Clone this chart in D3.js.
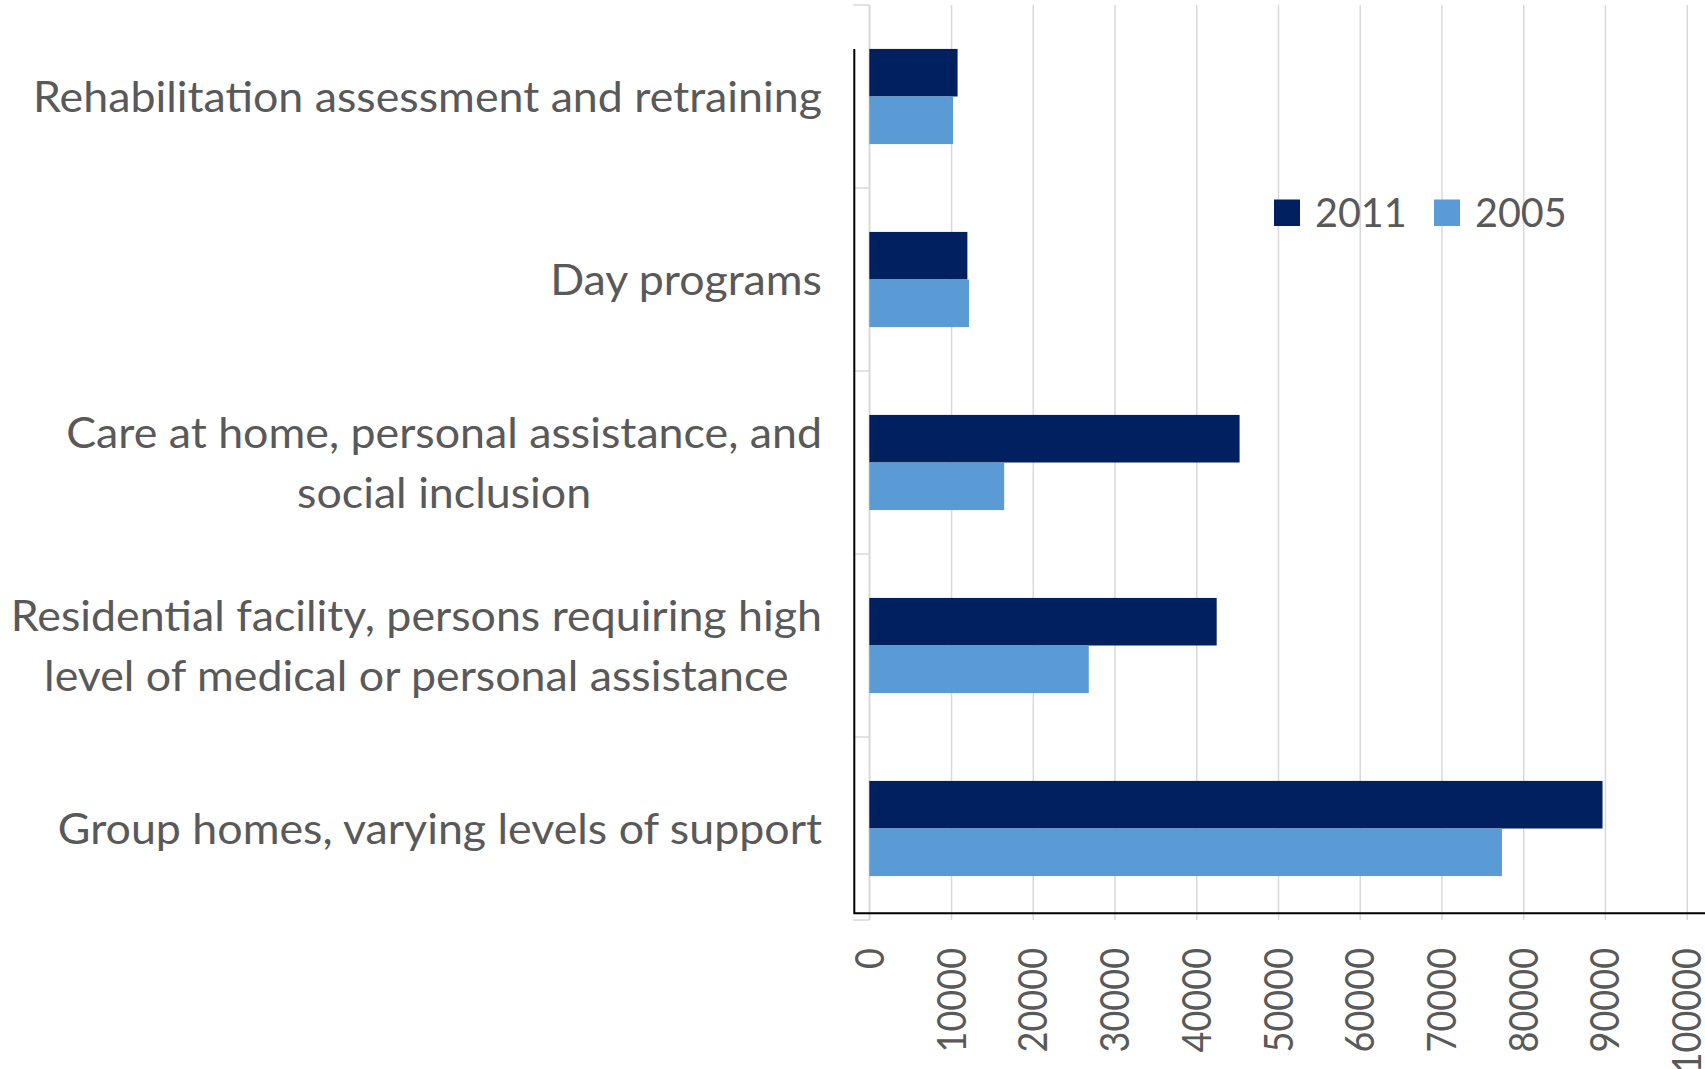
<!DOCTYPE html>
<html>
<head>
<meta charset="utf-8">
<script src="https://cdn.jsdelivr.net/npm/d3@7"></script>
<style>
  html, body { margin: 0; padding: 0; background: #ffffff; }
  svg { display: block; }
  text { font-family: Lato, "Open Sans", sans-serif; fill: #595959; }
</style>
</head>
<body>
<svg id="chart" width="1705" height="1069"></svg>
<script>
// ---- data ----
const categories = [
  "Rehabilitation assessment and retraining",
  "Day programs",
  "Care at home, personal assistance, and social inclusion",
  "Residential facility, persons requiring high level of medical or personal assistance",
  "Group homes, varying levels of support"
];
const categoryLines = [
  ["Rehabilitation assessment and retraining"],
  ["Day programs"],
  ["Care at home, personal assistance, and", "social inclusion"],
  ["Residential facility, persons requiring high", "level of medical or personal assistance"],
  ["Group homes, varying levels of support"]
];
const seriesNames = ["2011", "2005"];
const values2011 = [10800, 12000, 45300, 42500, 89700];
const values2005 = [10250, 12200, 16500, 26850, 77400];
const xTicks = [0, 10000, 20000, 30000, 40000, 50000, 60000, 70000, 80000, 90000, 100000];
const colors = { "2011": "#002060", "2005": "#5B9BD5" };

const seriesValues = { "2011": values2011, "2005": values2005 };

// ---- layout ----
const svg = d3.select("#chart");
svg.append("rect").attr("width", 1705).attr("height", 1069).attr("fill", "#fff");

const x = d3.scaleLinear().domain([0, 100000]).range([869.3, 1686.7]);
const y = d3.scaleBand().domain(categories).range([5, 920]).paddingInner(0.48).paddingOuter(0.24);
const ySub = d3.scaleBand().domain(seriesNames).range([0, y.bandwidth()]);

const gridColor = "#D9D9D9";

// helper: compress text to a given factor
function fit(sel, k) {
  sel.each(function () {
    const n = this.getComputedTextLength();
    d3.select(this).attr("textLength", n * k).attr("lengthAdjust", "spacingAndGlyphs");
    this.__len = n * k;
  });
}
function measure(str, size) {
  const t = svg.append("text").style("font-size", size + "px").text(str);
  const n = t.node().getComputedTextLength();
  t.remove();
  return n;
}

// gridlines via axis
const gx = svg.append("g").attr("transform", "translate(0,920)")
  .call(d3.axisBottom(x).tickValues(xTicks).tickSize(-915).tickFormat(""));
gx.select(".domain").remove();
gx.selectAll(".tick line").attr("stroke", gridColor).attr("stroke-width", 1.5);

// category axis (grey) with ticks at band boundaries
const step = y.step();
const y0 = y.range()[0];
const bounds = d3.range(categories.length + 1).map(i => y0 + i * step);
svg.append("line").attr("x1", x(0)).attr("x2", x(0)).attr("y1", y0).attr("y2", 920)
  .attr("stroke", gridColor).attr("stroke-width", 1.5);
svg.selectAll(".ctick").data(bounds).enter().append("line")
  .attr("x1", 853).attr("x2", x(0)).attr("y1", d => d).attr("y2", d => d)
  .attr("stroke", gridColor).attr("stroke-width", 1.5);

// bars
const groups = svg.selectAll(".grp").data(categories).enter().append("g")
  .attr("transform", d => `translate(0,${y(d)})`);
seriesNames.forEach(s => {
  groups.append("rect")
    .attr("x", x(0))
    .attr("y", ySub(s))
    .attr("height", ySub.bandwidth())
    .attr("width", (d, i) => x(seriesValues[s][i]) - x(0))
    .attr("fill", colors[s]);
});

// black frame lines (left + bottom)
svg.append("path").attr("d", `M854.3,49 L854.3,913.3 L1705,913.3`)
  .attr("fill", "none").attr("stroke", "#000").attr("stroke-width", 2);

// category labels
const labelSize = 43;
const kLabel = 789 / measure(categoryLines[0][0], labelSize);
const labelRight = 822;
const lineGap = 59.8;
categories.forEach((c, i) => {
  const lines = categoryLines[i];
  const cy = y(c) + y.bandwidth() / 2;
  const widths = lines.map(l => measure(l, labelSize) * kLabel);
  const maxW = d3.max(widths);
  const center = labelRight - maxW / 2;
  lines.forEach((l, j) => {
    const base = cy + (j - (lines.length - 1) / 2) * lineGap + 15.5;
    svg.append("text")
      .style("font-size", labelSize + "px")
      .attr("x", center - widths[j] / 2)
      .attr("y", base)
      .attr("textLength", widths[j])
      .attr("lengthAdjust", "spacingAndGlyphs")
      .text(l);
  });
});

// x tick labels (rotated)
const tickSize = 40;
const kTick = 104.4 / measure("10000", tickSize);
xTicks.forEach(t => {
  const L = measure(String(t), tickSize) * kTick;
  svg.append("text")
    .style("font-size", tickSize + "px")
    .attr("transform", `translate(${x(t)},948) rotate(-90)`)
    .attr("x", -L)
    .attr("y", 14.5)
    .attr("textLength", L)
    .attr("lengthAdjust", "spacingAndGlyphs")
    .text(String(t));
});

// legend
const legSize = 41;
const kLeg = 91.7 / measure("2011", legSize);
const legX = [1274, 1434];
seriesNames.forEach((s, i) => {
  svg.append("rect").attr("x", legX[i]).attr("y", 199.5).attr("width", 26).attr("height", 26.5)
    .attr("fill", colors[s]);
  const L = measure(s, legSize) * kLeg;
  svg.append("text").style("font-size", legSize + "px")
    .attr("x", legX[i] + 41).attr("y", 226.5)
    .attr("textLength", L).attr("lengthAdjust", "spacingAndGlyphs")
    .text(s);
});
</script>
</body>
</html>
